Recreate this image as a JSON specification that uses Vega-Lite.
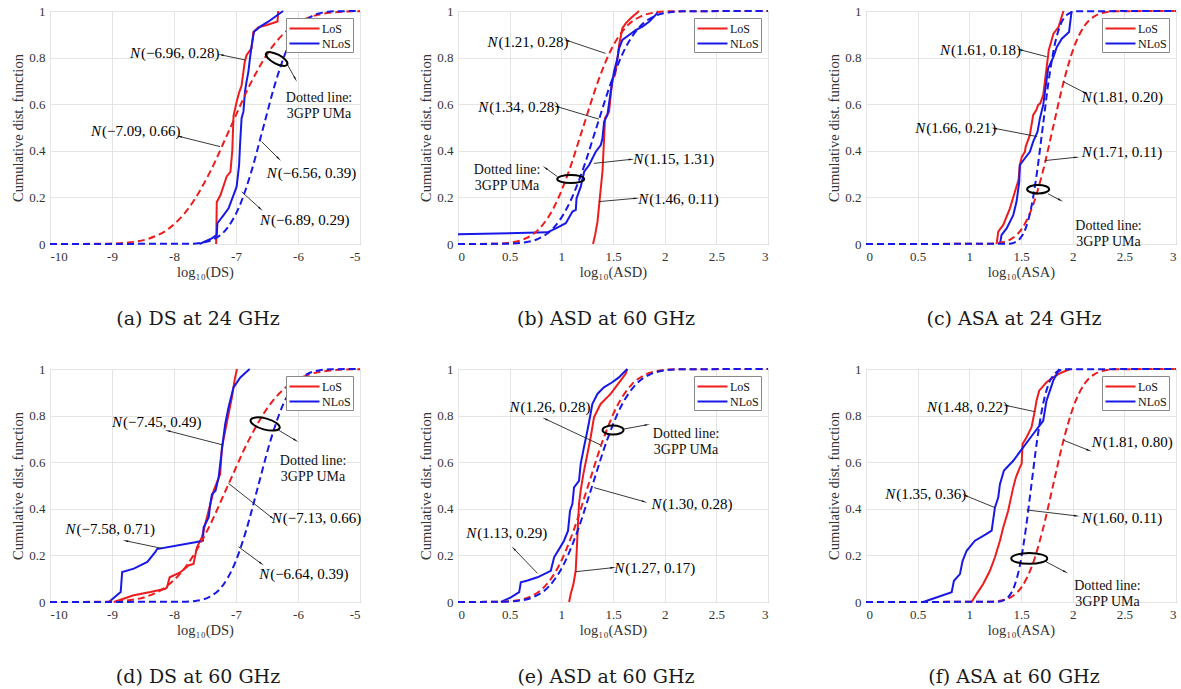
{
"$schema": "https://vega.github.io/schema/vega-lite/v6.json",
"background": "white",
"padding": {"left": 10, "top": 4, "right": 0, "bottom": 0},
"config": {
 "view": {"stroke": "#8a8a8a", "strokeWidth": 1},
 "axis": {"labelFont": "Liberation Serif", "labelFontSize": 13, "labelColor": "#333", "titleFont": "Liberation Serif", "titleFontSize": 14.5, "titleFontWeight": "normal", "titleColor": "#333", "gridColor": "#e4e4e4", "gridWidth": 1, "domain": false, "ticks": false, "labelPadding": 6, "format": "~r", "labelExpr": "replace(datum.label, '−', '-')"},
 "axisX": {"titlePadding": 2},
 "axisY": {"titlePadding": 3, "labelPadding": 5},
 "legend": {"orient": "top-right", "offset": 7, "fillColor": "white", "strokeColor": "#8a8a8a", "padding": 2, "symbolType": "M-2,0L2,0", "symbolSize": 225, "symbolStrokeWidth": 2, "symbolOffset": 8, "labelOffset": 9, "labelFont": "Liberation Serif", "labelFontSize": 12, "labelColor": "#111", "rowPadding": 0},
 "title": {"font": "DejaVu Serif", "fontSize": 19, "fontWeight": "normal", "color": "#1a1a1a", "orient": "bottom", "offset": 31, "frame": "group", "dx": -7}
},
"datasets": {
"curves": [
{"p":"a","s":"LoS","k":"m","x":-7.32,"y":0},{"p":"a","s":"LoS","k":"m","x":-7.31,"y":0.18},{"p":"a","s":"LoS","k":"m","x":-7.25,"y":0.21},{"p":"a","s":"LoS","k":"m","x":-7.2,"y":0.25},{"p":"a","s":"LoS","k":"m","x":-7.15,"y":0.29},{"p":"a","s":"LoS","k":"m","x":-7.09,"y":0.31},{"p":"a","s":"LoS","k":"m","x":-7.06,"y":0.4},{"p":"a","s":"LoS","k":"m","x":-7.04,"y":0.55},{"p":"a","s":"LoS","k":"m","x":-6.99,"y":0.61},{"p":"a","s":"LoS","k":"m","x":-6.95,"y":0.65},{"p":"a","s":"LoS","k":"m","x":-6.91,"y":0.68},{"p":"a","s":"LoS","k":"m","x":-6.86,"y":0.78},{"p":"a","s":"LoS","k":"m","x":-6.83,"y":0.81},{"p":"a","s":"LoS","k":"m","x":-6.75,"y":0.84},{"p":"a","s":"LoS","k":"m","x":-6.72,"y":0.91},{"p":"a","s":"LoS","k":"m","x":-6.64,"y":0.93},{"p":"a","s":"LoS","k":"m","x":-6.5,"y":0.94},{"p":"a","s":"LoS","k":"m","x":-6.33,"y":0.955},{"p":"a","s":"LoS","k":"m","x":-6.32,"y":1},
{"p":"a","s":"NLoS","k":"m","x":-7.59,"y":0},{"p":"a","s":"NLoS","k":"m","x":-7.39,"y":0.024},{"p":"a","s":"NLoS","k":"m","x":-7.31,"y":0.039},{"p":"a","s":"NLoS","k":"m","x":-7.3,"y":0.089},{"p":"a","s":"NLoS","k":"m","x":-7.2,"y":0.124},{"p":"a","s":"NLoS","k":"m","x":-7.12,"y":0.153},{"p":"a","s":"NLoS","k":"m","x":-7.04,"y":0.21},{"p":"a","s":"NLoS","k":"m","x":-6.99,"y":0.246},{"p":"a","s":"NLoS","k":"m","x":-6.95,"y":0.339},{"p":"a","s":"NLoS","k":"m","x":-6.935,"y":0.425},{"p":"a","s":"NLoS","k":"m","x":-6.91,"y":0.54},{"p":"a","s":"NLoS","k":"m","x":-6.88,"y":0.568},{"p":"a","s":"NLoS","k":"m","x":-6.855,"y":0.654},{"p":"a","s":"NLoS","k":"m","x":-6.83,"y":0.697},{"p":"a","s":"NLoS","k":"m","x":-6.8,"y":0.74},{"p":"a","s":"NLoS","k":"m","x":-6.775,"y":0.797},{"p":"a","s":"NLoS","k":"m","x":-6.75,"y":0.847},{"p":"a","s":"NLoS","k":"m","x":-6.71,"y":0.911},{"p":"a","s":"NLoS","k":"m","x":-6.61,"y":0.933},{"p":"a","s":"NLoS","k":"m","x":-6.48,"y":0.954},{"p":"a","s":"NLoS","k":"m","x":-6.33,"y":0.983},{"p":"a","s":"NLoS","k":"m","x":-6.24,"y":1},
{"p":"a","s":"LoS","k":"g","x":-10,"y":0},{"p":"a","s":"LoS","k":"g","x":-9.07,"y":0.0013},{"p":"a","s":"LoS","k":"g","x":-8.74,"y":0.0062},{"p":"a","s":"LoS","k":"g","x":-8.41,"y":0.0228},{"p":"a","s":"LoS","k":"g","x":-8.08,"y":0.0668},{"p":"a","s":"LoS","k":"g","x":-7.75,"y":0.1587},{"p":"a","s":"LoS","k":"g","x":-7.42,"y":0.3085},{"p":"a","s":"LoS","k":"g","x":-7.09,"y":0.5},{"p":"a","s":"LoS","k":"g","x":-6.76,"y":0.6915},{"p":"a","s":"LoS","k":"g","x":-6.43,"y":0.8413},{"p":"a","s":"LoS","k":"g","x":-6.1,"y":0.9332},{"p":"a","s":"LoS","k":"g","x":-5.77,"y":0.9772},{"p":"a","s":"LoS","k":"g","x":-5.44,"y":0.9938},{"p":"a","s":"LoS","k":"g","x":-5.11,"y":0.9987},{"p":"a","s":"LoS","k":"g","x":-5,"y":0.9992},
{"p":"a","s":"NLoS","k":"g","x":-10,"y":0},{"p":"a","s":"NLoS","k":"g","x":-7.73,"y":0.0013},{"p":"a","s":"NLoS","k":"g","x":-7.535,"y":0.0062},{"p":"a","s":"NLoS","k":"g","x":-7.34,"y":0.0228},{"p":"a","s":"NLoS","k":"g","x":-7.145,"y":0.0668},{"p":"a","s":"NLoS","k":"g","x":-6.95,"y":0.1587},{"p":"a","s":"NLoS","k":"g","x":-6.755,"y":0.3085},{"p":"a","s":"NLoS","k":"g","x":-6.56,"y":0.5},{"p":"a","s":"NLoS","k":"g","x":-6.365,"y":0.6915},{"p":"a","s":"NLoS","k":"g","x":-6.17,"y":0.8413},{"p":"a","s":"NLoS","k":"g","x":-5.975,"y":0.9332},{"p":"a","s":"NLoS","k":"g","x":-5.78,"y":0.9772},{"p":"a","s":"NLoS","k":"g","x":-5.585,"y":0.9938},{"p":"a","s":"NLoS","k":"g","x":-5.39,"y":0.9987},{"p":"a","s":"NLoS","k":"g","x":-5,"y":1},

{"p":"b","s":"LoS","k":"m","x":1.307,"y":0},{"p":"b","s":"LoS","k":"m","x":1.327,"y":0.039},{"p":"b","s":"LoS","k":"m","x":1.35,"y":0.096},{"p":"b","s":"LoS","k":"m","x":1.372,"y":0.196},{"p":"b","s":"LoS","k":"m","x":1.398,"y":0.31},{"p":"b","s":"LoS","k":"m","x":1.414,"y":0.454},{"p":"b","s":"LoS","k":"m","x":1.423,"y":0.54},{"p":"b","s":"LoS","k":"m","x":1.462,"y":0.568},{"p":"b","s":"LoS","k":"m","x":1.478,"y":0.64},{"p":"b","s":"LoS","k":"m","x":1.495,"y":0.711},{"p":"b","s":"LoS","k":"m","x":1.52,"y":0.725},{"p":"b","s":"LoS","k":"m","x":1.543,"y":0.797},{"p":"b","s":"LoS","k":"m","x":1.559,"y":0.854},{"p":"b","s":"LoS","k":"m","x":1.575,"y":0.89},{"p":"b","s":"LoS","k":"m","x":1.591,"y":0.926},{"p":"b","s":"LoS","k":"m","x":1.623,"y":0.947},{"p":"b","s":"LoS","k":"m","x":1.671,"y":0.969},{"p":"b","s":"LoS","k":"m","x":1.752,"y":1},
{"p":"b","s":"NLoS","k":"m","x":0,"y":0.042},{"p":"b","s":"NLoS","k":"m","x":0.866,"y":0.05},{"p":"b","s":"NLoS","k":"m","x":0.947,"y":0.067},{"p":"b","s":"NLoS","k":"m","x":1.043,"y":0.089},{"p":"b","s":"NLoS","k":"m","x":1.108,"y":0.139},{"p":"b","s":"NLoS","k":"m","x":1.14,"y":0.146},{"p":"b","s":"NLoS","k":"m","x":1.147,"y":0.196},{"p":"b","s":"NLoS","k":"m","x":1.188,"y":0.246},{"p":"b","s":"NLoS","k":"m","x":1.221,"y":0.31},{"p":"b","s":"NLoS","k":"m","x":1.269,"y":0.339},{"p":"b","s":"NLoS","k":"m","x":1.333,"y":0.396},{"p":"b","s":"NLoS","k":"m","x":1.382,"y":0.425},{"p":"b","s":"NLoS","k":"m","x":1.398,"y":0.454},{"p":"b","s":"NLoS","k":"m","x":1.414,"y":0.525},{"p":"b","s":"NLoS","k":"m","x":1.446,"y":0.554},{"p":"b","s":"NLoS","k":"m","x":1.478,"y":0.654},{"p":"b","s":"NLoS","k":"m","x":1.51,"y":0.74},{"p":"b","s":"NLoS","k":"m","x":1.543,"y":0.797},{"p":"b","s":"NLoS","k":"m","x":1.559,"y":0.84},{"p":"b","s":"NLoS","k":"m","x":1.591,"y":0.876},{"p":"b","s":"NLoS","k":"m","x":1.655,"y":0.897},{"p":"b","s":"NLoS","k":"m","x":1.72,"y":0.918},{"p":"b","s":"NLoS","k":"m","x":1.785,"y":0.933},{"p":"b","s":"NLoS","k":"m","x":1.849,"y":0.954},{"p":"b","s":"NLoS","k":"m","x":1.913,"y":0.983},{"p":"b","s":"NLoS","k":"m","x":1.939,"y":1},
{"p":"b","s":"LoS","k":"g","x":0,"y":0},{"p":"b","s":"LoS","k":"g","x":0.37,"y":0.0013},{"p":"b","s":"LoS","k":"g","x":0.51,"y":0.0062},{"p":"b","s":"LoS","k":"g","x":0.65,"y":0.0228},{"p":"b","s":"LoS","k":"g","x":0.79,"y":0.0668},{"p":"b","s":"LoS","k":"g","x":0.93,"y":0.1587},{"p":"b","s":"LoS","k":"g","x":1.07,"y":0.3085},{"p":"b","s":"LoS","k":"g","x":1.21,"y":0.5},{"p":"b","s":"LoS","k":"g","x":1.35,"y":0.6915},{"p":"b","s":"LoS","k":"g","x":1.49,"y":0.8413},{"p":"b","s":"LoS","k":"g","x":1.63,"y":0.9332},{"p":"b","s":"LoS","k":"g","x":1.77,"y":0.9772},{"p":"b","s":"LoS","k":"g","x":1.91,"y":0.9938},{"p":"b","s":"LoS","k":"g","x":2.05,"y":0.9987},{"p":"b","s":"LoS","k":"g","x":3,"y":1},
{"p":"b","s":"NLoS","k":"g","x":0,"y":0},{"p":"b","s":"NLoS","k":"g","x":0.5,"y":0.0013},{"p":"b","s":"NLoS","k":"g","x":0.64,"y":0.0062},{"p":"b","s":"NLoS","k":"g","x":0.78,"y":0.0228},{"p":"b","s":"NLoS","k":"g","x":0.92,"y":0.0668},{"p":"b","s":"NLoS","k":"g","x":1.06,"y":0.1587},{"p":"b","s":"NLoS","k":"g","x":1.2,"y":0.3085},{"p":"b","s":"NLoS","k":"g","x":1.34,"y":0.5},{"p":"b","s":"NLoS","k":"g","x":1.48,"y":0.6915},{"p":"b","s":"NLoS","k":"g","x":1.62,"y":0.8413},{"p":"b","s":"NLoS","k":"g","x":1.76,"y":0.9332},{"p":"b","s":"NLoS","k":"g","x":1.9,"y":0.9772},{"p":"b","s":"NLoS","k":"g","x":2.04,"y":0.9938},{"p":"b","s":"NLoS","k":"g","x":2.18,"y":0.9987},{"p":"b","s":"NLoS","k":"g","x":3,"y":1},

{"p":"c","s":"LoS","k":"m","x":1.264,"y":0},{"p":"c","s":"LoS","k":"m","x":1.28,"y":0.053},{"p":"c","s":"LoS","k":"m","x":1.328,"y":0.082},{"p":"c","s":"LoS","k":"m","x":1.393,"y":0.153},{"p":"c","s":"LoS","k":"m","x":1.441,"y":0.224},{"p":"c","s":"LoS","k":"m","x":1.476,"y":0.274},{"p":"c","s":"LoS","k":"m","x":1.489,"y":0.339},{"p":"c","s":"LoS","k":"m","x":1.508,"y":0.374},{"p":"c","s":"LoS","k":"m","x":1.538,"y":0.396},{"p":"c","s":"LoS","k":"m","x":1.545,"y":0.417},{"p":"c","s":"LoS","k":"m","x":1.586,"y":0.468},{"p":"c","s":"LoS","k":"m","x":1.618,"y":0.554},{"p":"c","s":"LoS","k":"m","x":1.647,"y":0.574},{"p":"c","s":"LoS","k":"m","x":1.666,"y":0.597},{"p":"c","s":"LoS","k":"m","x":1.685,"y":0.603},{"p":"c","s":"LoS","k":"m","x":1.715,"y":0.639},{"p":"c","s":"LoS","k":"m","x":1.743,"y":0.74},{"p":"c","s":"LoS","k":"m","x":1.763,"y":0.811},{"p":"c","s":"LoS","k":"m","x":1.768,"y":0.831},{"p":"c","s":"LoS","k":"m","x":1.814,"y":0.903},{"p":"c","s":"LoS","k":"m","x":1.863,"y":0.931},{"p":"c","s":"LoS","k":"m","x":1.911,"y":1},
{"p":"c","s":"NLoS","k":"m","x":1.296,"y":0},{"p":"c","s":"NLoS","k":"m","x":1.312,"y":0.039},{"p":"c","s":"NLoS","k":"m","x":1.361,"y":0.067},{"p":"c","s":"NLoS","k":"m","x":1.425,"y":0.124},{"p":"c","s":"NLoS","k":"m","x":1.457,"y":0.182},{"p":"c","s":"NLoS","k":"m","x":1.483,"y":0.267},{"p":"c","s":"NLoS","k":"m","x":1.489,"y":0.339},{"p":"c","s":"NLoS","k":"m","x":1.538,"y":0.368},{"p":"c","s":"NLoS","k":"m","x":1.586,"y":0.396},{"p":"c","s":"NLoS","k":"m","x":1.618,"y":0.439},{"p":"c","s":"NLoS","k":"m","x":1.66,"y":0.482},{"p":"c","s":"NLoS","k":"m","x":1.683,"y":0.539},{"p":"c","s":"NLoS","k":"m","x":1.715,"y":0.597},{"p":"c","s":"NLoS","k":"m","x":1.741,"y":0.682},{"p":"c","s":"NLoS","k":"m","x":1.763,"y":0.754},{"p":"c","s":"NLoS","k":"m","x":1.814,"y":0.803},{"p":"c","s":"NLoS","k":"m","x":1.847,"y":0.846},{"p":"c","s":"NLoS","k":"m","x":1.895,"y":0.881},{"p":"c","s":"NLoS","k":"m","x":1.965,"y":0.91},{"p":"c","s":"NLoS","k":"m","x":1.99,"y":1},
{"p":"c","s":"LoS","k":"g","x":0,"y":0},{"p":"c","s":"LoS","k":"g","x":1.21,"y":0.0013},{"p":"c","s":"LoS","k":"g","x":1.31,"y":0.0062},{"p":"c","s":"LoS","k":"g","x":1.41,"y":0.0228},{"p":"c","s":"LoS","k":"g","x":1.51,"y":0.0668},{"p":"c","s":"LoS","k":"g","x":1.61,"y":0.1587},{"p":"c","s":"LoS","k":"g","x":1.71,"y":0.3085},{"p":"c","s":"LoS","k":"g","x":1.81,"y":0.5},{"p":"c","s":"LoS","k":"g","x":1.91,"y":0.6915},{"p":"c","s":"LoS","k":"g","x":2.01,"y":0.8413},{"p":"c","s":"LoS","k":"g","x":2.11,"y":0.9332},{"p":"c","s":"LoS","k":"g","x":2.21,"y":0.9772},{"p":"c","s":"LoS","k":"g","x":2.31,"y":0.9938},{"p":"c","s":"LoS","k":"g","x":2.41,"y":0.9987},{"p":"c","s":"LoS","k":"g","x":3,"y":1},
{"p":"c","s":"NLoS","k":"g","x":0,"y":0},{"p":"c","s":"NLoS","k":"g","x":1.385,"y":0.0013},{"p":"c","s":"NLoS","k":"g","x":1.435,"y":0.0062},{"p":"c","s":"NLoS","k":"g","x":1.49,"y":0.0228},{"p":"c","s":"NLoS","k":"g","x":1.545,"y":0.0668},{"p":"c","s":"NLoS","k":"g","x":1.6,"y":0.1587},{"p":"c","s":"NLoS","k":"g","x":1.655,"y":0.3085},{"p":"c","s":"NLoS","k":"g","x":1.71,"y":0.5},{"p":"c","s":"NLoS","k":"g","x":1.765,"y":0.6915},{"p":"c","s":"NLoS","k":"g","x":1.82,"y":0.8413},{"p":"c","s":"NLoS","k":"g","x":1.875,"y":0.9332},{"p":"c","s":"NLoS","k":"g","x":1.93,"y":0.9772},{"p":"c","s":"NLoS","k":"g","x":1.985,"y":0.9938},{"p":"c","s":"NLoS","k":"g","x":2.04,"y":0.9987},{"p":"c","s":"NLoS","k":"g","x":3,"y":1},

{"p":"d","s":"LoS","k":"m","x":-8.97,"y":0},{"p":"d","s":"LoS","k":"m","x":-8.65,"y":0.029},{"p":"d","s":"LoS","k":"m","x":-8.38,"y":0.043},{"p":"d","s":"LoS","k":"m","x":-8.14,"y":0.057},{"p":"d","s":"LoS","k":"m","x":-8.113,"y":0.063},{"p":"d","s":"LoS","k":"m","x":-8.07,"y":0.106},{"p":"d","s":"LoS","k":"m","x":-7.9,"y":0.127},{"p":"d","s":"LoS","k":"m","x":-7.76,"y":0.158},{"p":"d","s":"LoS","k":"m","x":-7.685,"y":0.163},{"p":"d","s":"LoS","k":"m","x":-7.63,"y":0.235},{"p":"d","s":"LoS","k":"m","x":-7.55,"y":0.278},{"p":"d","s":"LoS","k":"m","x":-7.496,"y":0.335},{"p":"d","s":"LoS","k":"m","x":-7.415,"y":0.42},{"p":"d","s":"LoS","k":"m","x":-7.36,"y":0.478},{"p":"d","s":"LoS","k":"m","x":-7.255,"y":0.549},{"p":"d","s":"LoS","k":"m","x":-7.227,"y":0.664},{"p":"d","s":"LoS","k":"m","x":-7.174,"y":0.735},{"p":"d","s":"LoS","k":"m","x":-7.12,"y":0.807},{"p":"d","s":"LoS","k":"m","x":-7.066,"y":0.878},{"p":"d","s":"LoS","k":"m","x":-7.024,"y":0.95},{"p":"d","s":"LoS","k":"m","x":-6.985,"y":1},
{"p":"d","s":"NLoS","k":"m","x":-9.05,"y":0},{"p":"d","s":"NLoS","k":"m","x":-8.86,"y":0.043},{"p":"d","s":"NLoS","k":"m","x":-8.836,"y":0.129},{"p":"d","s":"NLoS","k":"m","x":-8.648,"y":0.143},{"p":"d","s":"NLoS","k":"m","x":-8.43,"y":0.172},{"p":"d","s":"NLoS","k":"m","x":-8.3,"y":0.215},{"p":"d","s":"NLoS","k":"m","x":-8.274,"y":0.227},{"p":"d","s":"NLoS","k":"m","x":-7.657,"y":0.256},{"p":"d","s":"NLoS","k":"m","x":-7.533,"y":0.263},{"p":"d","s":"NLoS","k":"m","x":-7.523,"y":0.32},{"p":"d","s":"NLoS","k":"m","x":-7.44,"y":0.364},{"p":"d","s":"NLoS","k":"m","x":-7.415,"y":0.42},{"p":"d","s":"NLoS","k":"m","x":-7.388,"y":0.463},{"p":"d","s":"NLoS","k":"m","x":-7.33,"y":0.478},{"p":"d","s":"NLoS","k":"m","x":-7.28,"y":0.535},{"p":"d","s":"NLoS","k":"m","x":-7.255,"y":0.592},{"p":"d","s":"NLoS","k":"m","x":-7.21,"y":0.692},{"p":"d","s":"NLoS","k":"m","x":-7.174,"y":0.764},{"p":"d","s":"NLoS","k":"m","x":-7.12,"y":0.836},{"p":"d","s":"NLoS","k":"m","x":-7.04,"y":0.921},{"p":"d","s":"NLoS","k":"m","x":-6.93,"y":0.964},{"p":"d","s":"NLoS","k":"m","x":-6.78,"y":1},
{"p":"d","s":"LoS","k":"g","x":-10,"y":0},{"p":"d","s":"LoS","k":"g","x":-9.11,"y":0.0013},{"p":"d","s":"LoS","k":"g","x":-8.78,"y":0.0062},{"p":"d","s":"LoS","k":"g","x":-8.45,"y":0.0228},{"p":"d","s":"LoS","k":"g","x":-8.12,"y":0.0668},{"p":"d","s":"LoS","k":"g","x":-7.79,"y":0.1587},{"p":"d","s":"LoS","k":"g","x":-7.46,"y":0.3085},{"p":"d","s":"LoS","k":"g","x":-7.13,"y":0.5},{"p":"d","s":"LoS","k":"g","x":-6.8,"y":0.6915},{"p":"d","s":"LoS","k":"g","x":-6.47,"y":0.8413},{"p":"d","s":"LoS","k":"g","x":-6.14,"y":0.9332},{"p":"d","s":"LoS","k":"g","x":-5.81,"y":0.9772},{"p":"d","s":"LoS","k":"g","x":-5.48,"y":0.9938},{"p":"d","s":"LoS","k":"g","x":-5.15,"y":0.9987},{"p":"d","s":"LoS","k":"g","x":-5,"y":0.9993},
{"p":"d","s":"NLoS","k":"g","x":-10,"y":0},{"p":"d","s":"NLoS","k":"g","x":-7.81,"y":0.0013},{"p":"d","s":"NLoS","k":"g","x":-7.615,"y":0.0062},{"p":"d","s":"NLoS","k":"g","x":-7.42,"y":0.0228},{"p":"d","s":"NLoS","k":"g","x":-7.225,"y":0.0668},{"p":"d","s":"NLoS","k":"g","x":-7.03,"y":0.1587},{"p":"d","s":"NLoS","k":"g","x":-6.835,"y":0.3085},{"p":"d","s":"NLoS","k":"g","x":-6.64,"y":0.5},{"p":"d","s":"NLoS","k":"g","x":-6.445,"y":0.6915},{"p":"d","s":"NLoS","k":"g","x":-6.25,"y":0.8413},{"p":"d","s":"NLoS","k":"g","x":-6.055,"y":0.9332},{"p":"d","s":"NLoS","k":"g","x":-5.86,"y":0.9772},{"p":"d","s":"NLoS","k":"g","x":-5.665,"y":0.9938},{"p":"d","s":"NLoS","k":"g","x":-5.47,"y":0.9987},{"p":"d","s":"NLoS","k":"g","x":-5,"y":1},

{"p":"e","s":"LoS","k":"m","x":1.075,"y":0},{"p":"e","s":"LoS","k":"m","x":1.091,"y":0.034},{"p":"e","s":"LoS","k":"m","x":1.117,"y":0.077},{"p":"e","s":"LoS","k":"m","x":1.139,"y":0.134},{"p":"e","s":"LoS","k":"m","x":1.149,"y":0.22},{"p":"e","s":"LoS","k":"m","x":1.161,"y":0.335},{"p":"e","s":"LoS","k":"m","x":1.171,"y":0.42},{"p":"e","s":"LoS","k":"m","x":1.187,"y":0.478},{"p":"e","s":"LoS","k":"m","x":1.213,"y":0.549},{"p":"e","s":"LoS","k":"m","x":1.252,"y":0.635},{"p":"e","s":"LoS","k":"m","x":1.284,"y":0.707},{"p":"e","s":"LoS","k":"m","x":1.316,"y":0.793},{"p":"e","s":"LoS","k":"m","x":1.38,"y":0.85},{"p":"e","s":"LoS","k":"m","x":1.477,"y":0.893},{"p":"e","s":"LoS","k":"m","x":1.573,"y":0.95},{"p":"e","s":"LoS","k":"m","x":1.622,"y":0.979},{"p":"e","s":"LoS","k":"m","x":1.638,"y":1},
{"p":"e","s":"NLoS","k":"m","x":0.415,"y":0},{"p":"e","s":"NLoS","k":"m","x":0.512,"y":0.02},{"p":"e","s":"NLoS","k":"m","x":0.592,"y":0.042},{"p":"e","s":"NLoS","k":"m","x":0.608,"y":0.085},{"p":"e","s":"NLoS","k":"m","x":0.673,"y":0.092},{"p":"e","s":"NLoS","k":"m","x":0.769,"y":0.106},{"p":"e","s":"NLoS","k":"m","x":0.898,"y":0.134},{"p":"e","s":"NLoS","k":"m","x":0.93,"y":0.192},{"p":"e","s":"NLoS","k":"m","x":0.978,"y":0.227},{"p":"e","s":"NLoS","k":"m","x":1.026,"y":0.263},{"p":"e","s":"NLoS","k":"m","x":1.065,"y":0.306},{"p":"e","s":"NLoS","k":"m","x":1.084,"y":0.392},{"p":"e","s":"NLoS","k":"m","x":1.107,"y":0.42},{"p":"e","s":"NLoS","k":"m","x":1.123,"y":0.492},{"p":"e","s":"NLoS","k":"m","x":1.171,"y":0.52},{"p":"e","s":"NLoS","k":"m","x":1.187,"y":0.592},{"p":"e","s":"NLoS","k":"m","x":1.219,"y":0.664},{"p":"e","s":"NLoS","k":"m","x":1.252,"y":0.735},{"p":"e","s":"NLoS","k":"m","x":1.277,"y":0.793},{"p":"e","s":"NLoS","k":"m","x":1.3,"y":0.85},{"p":"e","s":"NLoS","k":"m","x":1.349,"y":0.893},{"p":"e","s":"NLoS","k":"m","x":1.412,"y":0.921},{"p":"e","s":"NLoS","k":"m","x":1.493,"y":0.943},{"p":"e","s":"NLoS","k":"m","x":1.557,"y":0.964},{"p":"e","s":"NLoS","k":"m","x":1.638,"y":1},
{"p":"e","s":"LoS","k":"g","x":0,"y":0},{"p":"e","s":"LoS","k":"g","x":0.42,"y":0.0013},{"p":"e","s":"LoS","k":"g","x":0.56,"y":0.0062},{"p":"e","s":"LoS","k":"g","x":0.7,"y":0.0228},{"p":"e","s":"LoS","k":"g","x":0.84,"y":0.0668},{"p":"e","s":"LoS","k":"g","x":0.98,"y":0.1587},{"p":"e","s":"LoS","k":"g","x":1.12,"y":0.3085},{"p":"e","s":"LoS","k":"g","x":1.26,"y":0.5},{"p":"e","s":"LoS","k":"g","x":1.4,"y":0.6915},{"p":"e","s":"LoS","k":"g","x":1.54,"y":0.8413},{"p":"e","s":"LoS","k":"g","x":1.68,"y":0.9332},{"p":"e","s":"LoS","k":"g","x":1.82,"y":0.9772},{"p":"e","s":"LoS","k":"g","x":1.96,"y":0.9938},{"p":"e","s":"LoS","k":"g","x":2.1,"y":0.9987},{"p":"e","s":"LoS","k":"g","x":3,"y":1},
{"p":"e","s":"NLoS","k":"g","x":0,"y":0},{"p":"e","s":"NLoS","k":"g","x":0.46,"y":0.0013},{"p":"e","s":"NLoS","k":"g","x":0.6,"y":0.0062},{"p":"e","s":"NLoS","k":"g","x":0.74,"y":0.0228},{"p":"e","s":"NLoS","k":"g","x":0.88,"y":0.0668},{"p":"e","s":"NLoS","k":"g","x":1.02,"y":0.1587},{"p":"e","s":"NLoS","k":"g","x":1.16,"y":0.3085},{"p":"e","s":"NLoS","k":"g","x":1.3,"y":0.5},{"p":"e","s":"NLoS","k":"g","x":1.44,"y":0.6915},{"p":"e","s":"NLoS","k":"g","x":1.58,"y":0.8413},{"p":"e","s":"NLoS","k":"g","x":1.72,"y":0.9332},{"p":"e","s":"NLoS","k":"g","x":1.86,"y":0.9772},{"p":"e","s":"NLoS","k":"g","x":2,"y":0.9938},{"p":"e","s":"NLoS","k":"g","x":2.14,"y":0.9987},{"p":"e","s":"NLoS","k":"g","x":3,"y":1},

{"p":"f","s":"LoS","k":"m","x":1.022,"y":0},{"p":"f","s":"LoS","k":"m","x":1.07,"y":0.034},{"p":"f","s":"LoS","k":"m","x":1.134,"y":0.077},{"p":"f","s":"LoS","k":"m","x":1.199,"y":0.134},{"p":"f","s":"LoS","k":"m","x":1.248,"y":0.192},{"p":"f","s":"LoS","k":"m","x":1.296,"y":0.263},{"p":"f","s":"LoS","k":"m","x":1.328,"y":0.32},{"p":"f","s":"LoS","k":"m","x":1.376,"y":0.392},{"p":"f","s":"LoS","k":"m","x":1.425,"y":0.492},{"p":"f","s":"LoS","k":"m","x":1.451,"y":0.535},{"p":"f","s":"LoS","k":"m","x":1.489,"y":0.578},{"p":"f","s":"LoS","k":"m","x":1.506,"y":0.592},{"p":"f","s":"LoS","k":"m","x":1.515,"y":0.678},{"p":"f","s":"LoS","k":"m","x":1.554,"y":0.707},{"p":"f","s":"LoS","k":"m","x":1.602,"y":0.75},{"p":"f","s":"LoS","k":"m","x":1.634,"y":0.821},{"p":"f","s":"LoS","k":"m","x":1.65,"y":0.864},{"p":"f","s":"LoS","k":"m","x":1.676,"y":0.907},{"p":"f","s":"LoS","k":"m","x":1.747,"y":0.943},{"p":"f","s":"LoS","k":"m","x":1.812,"y":0.964},{"p":"f","s":"LoS","k":"m","x":1.87,"y":0.98},{"p":"f","s":"LoS","k":"m","x":1.975,"y":1},
{"p":"f","s":"NLoS","k":"m","x":0.554,"y":0},{"p":"f","s":"NLoS","k":"m","x":0.829,"y":0.042},{"p":"f","s":"NLoS","k":"m","x":0.851,"y":0.091},{"p":"f","s":"NLoS","k":"m","x":0.909,"y":0.12},{"p":"f","s":"NLoS","k":"m","x":0.935,"y":0.177},{"p":"f","s":"NLoS","k":"m","x":0.974,"y":0.22},{"p":"f","s":"NLoS","k":"m","x":1.054,"y":0.263},{"p":"f","s":"NLoS","k":"m","x":1.167,"y":0.292},{"p":"f","s":"NLoS","k":"m","x":1.216,"y":0.306},{"p":"f","s":"NLoS","k":"m","x":1.248,"y":0.406},{"p":"f","s":"NLoS","k":"m","x":1.28,"y":0.449},{"p":"f","s":"NLoS","k":"m","x":1.296,"y":0.506},{"p":"f","s":"NLoS","k":"m","x":1.335,"y":0.564},{"p":"f","s":"NLoS","k":"m","x":1.425,"y":0.606},{"p":"f","s":"NLoS","k":"m","x":1.521,"y":0.664},{"p":"f","s":"NLoS","k":"m","x":1.618,"y":0.721},{"p":"f","s":"NLoS","k":"m","x":1.715,"y":0.778},{"p":"f","s":"NLoS","k":"m","x":1.747,"y":0.864},{"p":"f","s":"NLoS","k":"m","x":1.78,"y":0.907},{"p":"f","s":"NLoS","k":"m","x":1.812,"y":0.95},{"p":"f","s":"NLoS","k":"m","x":1.87,"y":1},
{"p":"f","s":"LoS","k":"g","x":0,"y":0},{"p":"f","s":"LoS","k":"g","x":1.21,"y":0.0013},{"p":"f","s":"LoS","k":"g","x":1.31,"y":0.0062},{"p":"f","s":"LoS","k":"g","x":1.41,"y":0.0228},{"p":"f","s":"LoS","k":"g","x":1.51,"y":0.0668},{"p":"f","s":"LoS","k":"g","x":1.61,"y":0.1587},{"p":"f","s":"LoS","k":"g","x":1.71,"y":0.3085},{"p":"f","s":"LoS","k":"g","x":1.81,"y":0.5},{"p":"f","s":"LoS","k":"g","x":1.91,"y":0.6915},{"p":"f","s":"LoS","k":"g","x":2.01,"y":0.8413},{"p":"f","s":"LoS","k":"g","x":2.11,"y":0.9332},{"p":"f","s":"LoS","k":"g","x":2.21,"y":0.9772},{"p":"f","s":"LoS","k":"g","x":2.31,"y":0.9938},{"p":"f","s":"LoS","k":"g","x":2.41,"y":0.9987},{"p":"f","s":"LoS","k":"g","x":3,"y":1},
{"p":"f","s":"NLoS","k":"g","x":0,"y":0},{"p":"f","s":"NLoS","k":"g","x":1.27,"y":0.0013},{"p":"f","s":"NLoS","k":"g","x":1.325,"y":0.0062},{"p":"f","s":"NLoS","k":"g","x":1.38,"y":0.0228},{"p":"f","s":"NLoS","k":"g","x":1.435,"y":0.0668},{"p":"f","s":"NLoS","k":"g","x":1.49,"y":0.1587},{"p":"f","s":"NLoS","k":"g","x":1.545,"y":0.3085},{"p":"f","s":"NLoS","k":"g","x":1.6,"y":0.5},{"p":"f","s":"NLoS","k":"g","x":1.655,"y":0.6915},{"p":"f","s":"NLoS","k":"g","x":1.71,"y":0.8413},{"p":"f","s":"NLoS","k":"g","x":1.765,"y":0.9332},{"p":"f","s":"NLoS","k":"g","x":1.82,"y":0.9772},{"p":"f","s":"NLoS","k":"g","x":1.875,"y":0.9938},{"p":"f","s":"NLoS","k":"g","x":1.93,"y":0.9987},{"p":"f","s":"NLoS","k":"g","x":3,"y":1}
],
"labels": [
{"p":"a","x":-8.548,"y":0.821,"t":"(−6.96, 0.28)"},{"p":"a","x":-9.177,"y":0.486,"t":"(−7.09, 0.66)"},{"p":"a","x":-6.344,"y":0.306,"t":"(−6.56, 0.39)"},{"p":"a","x":-6.452,"y":0.103,"t":"(−6.89, 0.29)"},
{"p":"b","x":0.383,"y":0.868,"t":"(1.21, 0.28)"},{"p":"b","x":0.293,"y":0.589,"t":"(1.34, 0.28)"},{"p":"b","x":1.792,"y":0.363,"t":"(1.15, 1.31)"},{"p":"b","x":1.841,"y":0.192,"t":"(1.46, 0.11)"},
{"p":"c","x":0.812,"y":0.833,"t":"(1.61, 0.18)"},{"p":"c","x":2.186,"y":0.629,"t":"(1.81, 0.20)"},{"p":"c","x":0.574,"y":0.496,"t":"(1.66, 0.21)"},{"p":"c","x":2.186,"y":0.396,"t":"(1.71, 0.11)"},
{"p":"d","x":-8.837,"y":0.771,"t":"(−7.45, 0.49)"},{"p":"d","x":-9.589,"y":0.313,"t":"(−7.58, 0.71)"},{"p":"d","x":-6.261,"y":0.359,"t":"(−7.13, 0.66)"},{"p":"d","x":-6.465,"y":0.119,"t":"(−6.64, 0.39)"},
{"p":"e","x":0.595,"y":0.838,"t":"(1.26, 0.28)"},{"p":"e","x":1.969,"y":0.419,"t":"(1.30, 0.28)"},{"p":"e","x":0.177,"y":0.298,"t":"(1.13, 0.29)"},{"p":"e","x":1.609,"y":0.145,"t":"(1.27, 0.17)"},
{"p":"f","x":0.687,"y":0.838,"t":"(1.48, 0.22)"},{"p":"f","x":2.282,"y":0.685,"t":"(1.81, 0.80)"},{"p":"f","x":0.284,"y":0.462,"t":"(1.35, 0.36)"},{"p":"f","x":2.186,"y":0.359,"t":"(1.60, 0.11)"}
],
"arrows": [
{"p":"a","x2":-6.855,"y2":0.79,"x":-7.23,"y":0.811,"dir":-78},{"p":"a","x2":-7.258,"y2":0.418,"x":-7.903,"y":0.461,"dir":-76},{"p":"a","x2":-6.586,"y2":0.439,"x":-6.317,"y":0.368,"dir":135},{"p":"a","x2":-6.909,"y2":0.224,"x":-6.613,"y":0.153,"dir":132},{"p":"a","x2":-6.183,"y2":0.776,"x":-6.048,"y":0.711,"dir":151},
{"p":"b","x2":1.428,"y2":0.818,"x":1.059,"y":0.873,"dir":-72},{"p":"b","x2":1.364,"y2":0.536,"x":0.962,"y":0.589,"dir":-73},{"p":"b","x2":1.316,"y2":0.346,"x":1.67,"y":0.363,"dir":84},{"p":"b","x2":1.364,"y2":0.182,"x":1.718,"y":0.196,"dir":85},{"p":"b","x2":0.962,"y2":0.289,"x":0.85,"y":0.325,"dir":-54},
{"p":"c","x2":1.748,"y2":0.804,"x":1.496,"y":0.833,"dir":-75},{"p":"c","x2":1.908,"y2":0.697,"x":2.118,"y":0.649,"dir":117},{"p":"c","x2":1.657,"y2":0.461,"x":1.248,"y":0.496,"dir":-79},{"p":"c","x2":1.731,"y2":0.358,"x":2.031,"y":0.372,"dir":84},{"p":"c","x2":1.763,"y2":0.215,"x":1.876,"y":0.189,"dir":117},
{"p":"d","x2":-7.211,"y2":0.674,"x":-8.087,"y":0.734,"dir":-76},{"p":"d","x2":-8.193,"y2":0.23,"x":-8.768,"y":0.262,"dir":-78},{"p":"d","x2":-7.121,"y2":0.509,"x":-6.422,"y":0.362,"dir":128},{"p":"d","x2":-6.96,"y2":0.237,"x":-6.599,"y":0.166,"dir":126},{"p":"d","x2":-6.316,"y2":0.738,"x":-6.047,"y":0.695,"dir":121},
{"p":"e","x2":1.38,"y2":0.674,"x":0.849,"y":0.785,"dir":-65},{"p":"e","x2":1.316,"y2":0.491,"x":1.799,"y":0.431,"dir":106},{"p":"e","x2":0.769,"y2":0.123,"x":0.544,"y":0.227,"dir":-44},{"p":"e","x2":1.139,"y2":0.13,"x":1.493,"y":0.147,"dir":84},{"p":"e","x2":1.599,"y2":0.742,"x":1.824,"y":0.76,"dir":80},
{"p":"f","x2":1.634,"y2":0.817,"x":1.361,"y":0.843,"dir":-78},{"p":"f","x2":1.908,"y2":0.695,"x":2.15,"y":0.652,"dir":112},{"p":"f","x2":1.248,"y2":0.405,"x":0.967,"y":0.456,"dir":-67},{"p":"f","x2":1.554,"y2":0.395,"x":2.031,"y":0.37,"dir":97},{"p":"f","x2":1.741,"y2":0.173,"x":1.925,"y":0.13,"dir":118}
],
"ellipses": [
{"p":"a","x":-6.344,"y":0.794},{"p":"b","x":1.091,"y":0.279},{"p":"c","x":1.666,"y":0.235},{"p":"d","x":-6.53,"y":0.764},{"p":"e","x":1.5,"y":0.738},{"p":"f","x":1.58,"y":0.187}
],
"notes": [
{"p":"a","x":-5.661,"y":0.625,"t":"Dotted line:\n3GPP UMa"},{"p":"b","x":0.475,"y":0.316,"t":"Dotted line:\n3GPP UMa"},{"p":"c","x":2.347,"y":0.078,"t":"Dotted line:\n3GPP UMa"},{"p":"d","x":-5.757,"y":0.607,"t":"Dotted line:\n3GPP UMa"},{"p":"e","x":2.207,"y":0.72,"t":"Dotted line:\n3GPP UMa"},{"p":"f","x":2.337,"y":0.07,"t":"Dotted line:\n3GPP UMa"}
]
},
"columns": 3,
"bounds": "flush",
"spacing": {"row": 125, "column": 98},
"resolve": {"scale": {"x": "independent", "y": "independent", "color": "independent"}, "legend": {"color": "independent"}, "axis": {"x": "independent", "y": "independent"}},
"concat": [
{"width": 310, "height": 233, "title": {"text": "(a) DS at 24 GHz"},
 "encoding": {"x": {"field": "x", "type": "quantitative", "scale": {"domain": [-10, -5], "nice": false, "zero": false}, "axis": {"values": [-10, -9, -8, -7, -6, -5], "title": "log₁₀(DS)"}}, "y": {"field": "y", "type": "quantitative", "scale": {"domain": [0, 1], "nice": false}, "axis": {"values": [0, 0.2, 0.4, 0.6, 0.8, 1], "title": "Cumulative dist. function"}}},
 "layer": [
  {"data": {"name": "curves"}, "transform": [{"filter": "datum.p=='a' && datum.k=='m'"}], "mark": {"type": "line", "strokeWidth": 2}, "encoding": {"color": {"field": "s", "type": "nominal", "scale": {"domain": ["LoS", "NLoS"], "range": ["#ee1c1c", "#1818e8"]}, "legend": {"title": null}}, "order": [{"field": "x", "type": "quantitative"}, {"field": "y", "type": "quantitative"}]}},
  {"data": {"name": "curves"}, "transform": [{"filter": "datum.p=='a' && datum.k=='g'"}], "mark": {"type": "line", "strokeWidth": 2, "strokeDash": [7, 4], "interpolate": "monotone"}, "encoding": {"color": {"field": "s", "type": "nominal", "scale": {"domain": ["LoS", "NLoS"], "range": ["#ee1c1c", "#1818e8"]}, "legend": {"title": null}}, "order": [{"field": "x", "type": "quantitative"}, {"field": "y", "type": "quantitative"}]}},
  {"data": {"name": "arrows"}, "transform": [{"filter": "datum.p=='a'"}], "mark": {"type": "rule", "color": "#222", "strokeWidth": 0.9}, "encoding": {"x2": {"field": "x2"}, "y2": {"field": "y2"}}},
  {"data": {"name": "arrows"}, "transform": [{"filter": "datum.p=='a'"}], "mark": {"type": "point", "shape": "wedge", "filled": true, "color": "#111", "size": 45, "opacity": 1}, "encoding": {"angle": {"field": "dir", "type": "quantitative", "scale": null}}},
  {"data": {"name": "ellipses"}, "transform": [{"filter": "datum.p=='a'"}], "mark": {"type": "point", "shape": "M-1,0A1,0.38 0 1,1 1,0A1,0.38 0 1,1 -1,0Z", "size": 576, "angle": 28, "filled": false, "color": "#000", "strokeWidth": 2, "opacity": 1}},
  {"data": {"name": "labels"}, "transform": [{"filter": "datum.p=='a'"}], "mark": {"type": "text", "text": "N", "font": "Liberation Serif", "fontStyle": "italic", "fontSize": 15, "align": "right", "baseline": "middle", "color": "#000"}},
  {"data": {"name": "labels"}, "transform": [{"filter": "datum.p=='a'"}], "mark": {"type": "text", "font": "Liberation Serif", "fontSize": 15, "align": "left", "baseline": "middle", "color": "#000", "dx": 1}, "encoding": {"text": {"field": "t"}}},
  {"data": {"name": "notes"}, "transform": [{"filter": "datum.p=='a'"}], "mark": {"type": "text", "font": "Liberation Serif", "fontSize": 14, "align": "center", "baseline": "middle", "lineBreak": "\n", "lineHeight": 16, "color": "#111"}, "encoding": {"text": {"field": "t"}}}
 ]},
{"width": 310, "height": 233, "title": {"text": "(b) ASD at 60 GHz"},
 "encoding": {"x": {"field": "x", "type": "quantitative", "scale": {"domain": [0, 3], "nice": false, "zero": false}, "axis": {"values": [0, 0.5, 1, 1.5, 2, 2.5, 3], "title": "log₁₀(ASD)"}}, "y": {"field": "y", "type": "quantitative", "scale": {"domain": [0, 1], "nice": false}, "axis": {"values": [0, 0.2, 0.4, 0.6, 0.8, 1], "title": "Cumulative dist. function"}}},
 "layer": [
  {"data": {"name": "curves"}, "transform": [{"filter": "datum.p=='b' && datum.k=='m'"}], "mark": {"type": "line", "strokeWidth": 2}, "encoding": {"color": {"field": "s", "type": "nominal", "scale": {"domain": ["LoS", "NLoS"], "range": ["#ee1c1c", "#1818e8"]}, "legend": {"title": null}}, "order": [{"field": "x", "type": "quantitative"}, {"field": "y", "type": "quantitative"}]}},
  {"data": {"name": "curves"}, "transform": [{"filter": "datum.p=='b' && datum.k=='g'"}], "mark": {"type": "line", "strokeWidth": 2, "strokeDash": [7, 4], "interpolate": "monotone"}, "encoding": {"color": {"field": "s", "type": "nominal", "scale": {"domain": ["LoS", "NLoS"], "range": ["#ee1c1c", "#1818e8"]}, "legend": {"title": null}}, "order": [{"field": "x", "type": "quantitative"}, {"field": "y", "type": "quantitative"}]}},
  {"data": {"name": "arrows"}, "transform": [{"filter": "datum.p=='b'"}], "mark": {"type": "rule", "color": "#222", "strokeWidth": 0.9}, "encoding": {"x2": {"field": "x2"}, "y2": {"field": "y2"}}},
  {"data": {"name": "arrows"}, "transform": [{"filter": "datum.p=='b'"}], "mark": {"type": "point", "shape": "wedge", "filled": true, "color": "#111", "size": 45, "opacity": 1}, "encoding": {"angle": {"field": "dir", "type": "quantitative", "scale": null}}},
  {"data": {"name": "ellipses"}, "transform": [{"filter": "datum.p=='b'"}], "mark": {"type": "point", "shape": "M-1,0A1,0.3 0 1,1 1,0A1,0.3 0 1,1 -1,0Z", "size": 729, "angle": 0, "filled": false, "color": "#000", "strokeWidth": 2, "opacity": 1}},
  {"data": {"name": "labels"}, "transform": [{"filter": "datum.p=='b'"}], "mark": {"type": "text", "text": "N", "font": "Liberation Serif", "fontStyle": "italic", "fontSize": 15, "align": "right", "baseline": "middle", "color": "#000"}},
  {"data": {"name": "labels"}, "transform": [{"filter": "datum.p=='b'"}], "mark": {"type": "text", "font": "Liberation Serif", "fontSize": 15, "align": "left", "baseline": "middle", "color": "#000", "dx": 1}, "encoding": {"text": {"field": "t"}}},
  {"data": {"name": "notes"}, "transform": [{"filter": "datum.p=='b'"}], "mark": {"type": "text", "font": "Liberation Serif", "fontSize": 14, "align": "center", "baseline": "middle", "lineBreak": "\n", "lineHeight": 16, "color": "#111"}, "encoding": {"text": {"field": "t"}}}
 ]},
{"width": 310, "height": 233, "title": {"text": "(c) ASA at 24 GHz"},
 "encoding": {"x": {"field": "x", "type": "quantitative", "scale": {"domain": [0, 3], "nice": false, "zero": false}, "axis": {"values": [0, 0.5, 1, 1.5, 2, 2.5, 3], "title": "log₁₀(ASA)"}}, "y": {"field": "y", "type": "quantitative", "scale": {"domain": [0, 1], "nice": false}, "axis": {"values": [0, 0.2, 0.4, 0.6, 0.8, 1], "title": "Cumulative dist. function"}}},
 "layer": [
  {"data": {"name": "curves"}, "transform": [{"filter": "datum.p=='c' && datum.k=='m'"}], "mark": {"type": "line", "strokeWidth": 2}, "encoding": {"color": {"field": "s", "type": "nominal", "scale": {"domain": ["LoS", "NLoS"], "range": ["#ee1c1c", "#1818e8"]}, "legend": {"title": null}}, "order": [{"field": "x", "type": "quantitative"}, {"field": "y", "type": "quantitative"}]}},
  {"data": {"name": "curves"}, "transform": [{"filter": "datum.p=='c' && datum.k=='g'"}], "mark": {"type": "line", "strokeWidth": 2, "strokeDash": [7, 4], "interpolate": "monotone"}, "encoding": {"color": {"field": "s", "type": "nominal", "scale": {"domain": ["LoS", "NLoS"], "range": ["#ee1c1c", "#1818e8"]}, "legend": {"title": null}}, "order": [{"field": "x", "type": "quantitative"}, {"field": "y", "type": "quantitative"}]}},
  {"data": {"name": "arrows"}, "transform": [{"filter": "datum.p=='c'"}], "mark": {"type": "rule", "color": "#222", "strokeWidth": 0.9}, "encoding": {"x2": {"field": "x2"}, "y2": {"field": "y2"}}},
  {"data": {"name": "arrows"}, "transform": [{"filter": "datum.p=='c'"}], "mark": {"type": "point", "shape": "wedge", "filled": true, "color": "#111", "size": 45, "opacity": 1}, "encoding": {"angle": {"field": "dir", "type": "quantitative", "scale": null}}},
  {"data": {"name": "ellipses"}, "transform": [{"filter": "datum.p=='c'"}], "mark": {"type": "point", "shape": "M-1,0A1,0.38 0 1,1 1,0A1,0.38 0 1,1 -1,0Z", "size": 484, "angle": 0, "filled": false, "color": "#000", "strokeWidth": 2, "opacity": 1}},
  {"data": {"name": "labels"}, "transform": [{"filter": "datum.p=='c'"}], "mark": {"type": "text", "text": "N", "font": "Liberation Serif", "fontStyle": "italic", "fontSize": 15, "align": "right", "baseline": "middle", "color": "#000"}},
  {"data": {"name": "labels"}, "transform": [{"filter": "datum.p=='c'"}], "mark": {"type": "text", "font": "Liberation Serif", "fontSize": 15, "align": "left", "baseline": "middle", "color": "#000", "dx": 1}, "encoding": {"text": {"field": "t"}}},
  {"data": {"name": "notes"}, "transform": [{"filter": "datum.p=='c'"}], "mark": {"type": "text", "font": "Liberation Serif", "fontSize": 14, "align": "center", "baseline": "middle", "lineBreak": "\n", "lineHeight": 16, "color": "#111"}, "encoding": {"text": {"field": "t"}}}
 ]},
{"width": 310, "height": 233, "title": {"text": "(d) DS at 60 GHz"},
 "encoding": {"x": {"field": "x", "type": "quantitative", "scale": {"domain": [-10, -5], "nice": false, "zero": false}, "axis": {"values": [-10, -9, -8, -7, -6, -5], "title": "log₁₀(DS)"}}, "y": {"field": "y", "type": "quantitative", "scale": {"domain": [0, 1], "nice": false}, "axis": {"values": [0, 0.2, 0.4, 0.6, 0.8, 1], "title": "Cumulative dist. function"}}},
 "layer": [
  {"data": {"name": "curves"}, "transform": [{"filter": "datum.p=='d' && datum.k=='m'"}], "mark": {"type": "line", "strokeWidth": 2}, "encoding": {"color": {"field": "s", "type": "nominal", "scale": {"domain": ["LoS", "NLoS"], "range": ["#ee1c1c", "#1818e8"]}, "legend": {"title": null}}, "order": [{"field": "x", "type": "quantitative"}, {"field": "y", "type": "quantitative"}]}},
  {"data": {"name": "curves"}, "transform": [{"filter": "datum.p=='d' && datum.k=='g'"}], "mark": {"type": "line", "strokeWidth": 2, "strokeDash": [7, 4], "interpolate": "monotone"}, "encoding": {"color": {"field": "s", "type": "nominal", "scale": {"domain": ["LoS", "NLoS"], "range": ["#ee1c1c", "#1818e8"]}, "legend": {"title": null}}, "order": [{"field": "x", "type": "quantitative"}, {"field": "y", "type": "quantitative"}]}},
  {"data": {"name": "arrows"}, "transform": [{"filter": "datum.p=='d'"}], "mark": {"type": "rule", "color": "#222", "strokeWidth": 0.9}, "encoding": {"x2": {"field": "x2"}, "y2": {"field": "y2"}}},
  {"data": {"name": "arrows"}, "transform": [{"filter": "datum.p=='d'"}], "mark": {"type": "point", "shape": "wedge", "filled": true, "color": "#111", "size": 45, "opacity": 1}, "encoding": {"angle": {"field": "dir", "type": "quantitative", "scale": null}}},
  {"data": {"name": "ellipses"}, "transform": [{"filter": "datum.p=='d'"}], "mark": {"type": "point", "shape": "M-1,0A1,0.37 0 1,1 1,0A1,0.37 0 1,1 -1,0Z", "size": 900, "angle": 15, "filled": false, "color": "#000", "strokeWidth": 2, "opacity": 1}},
  {"data": {"name": "labels"}, "transform": [{"filter": "datum.p=='d'"}], "mark": {"type": "text", "text": "N", "font": "Liberation Serif", "fontStyle": "italic", "fontSize": 15, "align": "right", "baseline": "middle", "color": "#000"}},
  {"data": {"name": "labels"}, "transform": [{"filter": "datum.p=='d'"}], "mark": {"type": "text", "font": "Liberation Serif", "fontSize": 15, "align": "left", "baseline": "middle", "color": "#000", "dx": 1}, "encoding": {"text": {"field": "t"}}},
  {"data": {"name": "notes"}, "transform": [{"filter": "datum.p=='d'"}], "mark": {"type": "text", "font": "Liberation Serif", "fontSize": 14, "align": "center", "baseline": "middle", "lineBreak": "\n", "lineHeight": 16, "color": "#111"}, "encoding": {"text": {"field": "t"}}}
 ]},
{"width": 310, "height": 233, "title": {"text": "(e) ASD at 60 GHz"},
 "encoding": {"x": {"field": "x", "type": "quantitative", "scale": {"domain": [0, 3], "nice": false, "zero": false}, "axis": {"values": [0, 0.5, 1, 1.5, 2, 2.5, 3], "title": "log₁₀(ASD)"}}, "y": {"field": "y", "type": "quantitative", "scale": {"domain": [0, 1], "nice": false}, "axis": {"values": [0, 0.2, 0.4, 0.6, 0.8, 1], "title": "Cumulative dist. function"}}},
 "layer": [
  {"data": {"name": "curves"}, "transform": [{"filter": "datum.p=='e' && datum.k=='m'"}], "mark": {"type": "line", "strokeWidth": 2}, "encoding": {"color": {"field": "s", "type": "nominal", "scale": {"domain": ["LoS", "NLoS"], "range": ["#ee1c1c", "#1818e8"]}, "legend": {"title": null}}, "order": [{"field": "x", "type": "quantitative"}, {"field": "y", "type": "quantitative"}]}},
  {"data": {"name": "curves"}, "transform": [{"filter": "datum.p=='e' && datum.k=='g'"}], "mark": {"type": "line", "strokeWidth": 2, "strokeDash": [7, 4], "interpolate": "monotone"}, "encoding": {"color": {"field": "s", "type": "nominal", "scale": {"domain": ["LoS", "NLoS"], "range": ["#ee1c1c", "#1818e8"]}, "legend": {"title": null}}, "order": [{"field": "x", "type": "quantitative"}, {"field": "y", "type": "quantitative"}]}},
  {"data": {"name": "arrows"}, "transform": [{"filter": "datum.p=='e'"}], "mark": {"type": "rule", "color": "#222", "strokeWidth": 0.9}, "encoding": {"x2": {"field": "x2"}, "y2": {"field": "y2"}}},
  {"data": {"name": "arrows"}, "transform": [{"filter": "datum.p=='e'"}], "mark": {"type": "point", "shape": "wedge", "filled": true, "color": "#111", "size": 45, "opacity": 1}, "encoding": {"angle": {"field": "dir", "type": "quantitative", "scale": null}}},
  {"data": {"name": "ellipses"}, "transform": [{"filter": "datum.p=='e'"}], "mark": {"type": "point", "shape": "M-1,0A1,0.43 0 1,1 1,0A1,0.43 0 1,1 -1,0Z", "size": 441, "angle": 0, "filled": false, "color": "#000", "strokeWidth": 2, "opacity": 1}},
  {"data": {"name": "labels"}, "transform": [{"filter": "datum.p=='e'"}], "mark": {"type": "text", "text": "N", "font": "Liberation Serif", "fontStyle": "italic", "fontSize": 15, "align": "right", "baseline": "middle", "color": "#000"}},
  {"data": {"name": "labels"}, "transform": [{"filter": "datum.p=='e'"}], "mark": {"type": "text", "font": "Liberation Serif", "fontSize": 15, "align": "left", "baseline": "middle", "color": "#000", "dx": 1}, "encoding": {"text": {"field": "t"}}},
  {"data": {"name": "notes"}, "transform": [{"filter": "datum.p=='e'"}], "mark": {"type": "text", "font": "Liberation Serif", "fontSize": 14, "align": "center", "baseline": "middle", "lineBreak": "\n", "lineHeight": 16, "color": "#111"}, "encoding": {"text": {"field": "t"}}}
 ]},
{"width": 310, "height": 233, "title": {"text": "(f) ASA at 60 GHz"},
 "encoding": {"x": {"field": "x", "type": "quantitative", "scale": {"domain": [0, 3], "nice": false, "zero": false}, "axis": {"values": [0, 0.5, 1, 1.5, 2, 2.5, 3], "title": "log₁₀(ASA)"}}, "y": {"field": "y", "type": "quantitative", "scale": {"domain": [0, 1], "nice": false}, "axis": {"values": [0, 0.2, 0.4, 0.6, 0.8, 1], "title": "Cumulative dist. function"}}},
 "layer": [
  {"data": {"name": "curves"}, "transform": [{"filter": "datum.p=='f' && datum.k=='m'"}], "mark": {"type": "line", "strokeWidth": 2}, "encoding": {"color": {"field": "s", "type": "nominal", "scale": {"domain": ["LoS", "NLoS"], "range": ["#ee1c1c", "#1818e8"]}, "legend": {"title": null}}, "order": [{"field": "x", "type": "quantitative"}, {"field": "y", "type": "quantitative"}]}},
  {"data": {"name": "curves"}, "transform": [{"filter": "datum.p=='f' && datum.k=='g'"}], "mark": {"type": "line", "strokeWidth": 2, "strokeDash": [7, 4], "interpolate": "monotone"}, "encoding": {"color": {"field": "s", "type": "nominal", "scale": {"domain": ["LoS", "NLoS"], "range": ["#ee1c1c", "#1818e8"]}, "legend": {"title": null}}, "order": [{"field": "x", "type": "quantitative"}, {"field": "y", "type": "quantitative"}]}},
  {"data": {"name": "arrows"}, "transform": [{"filter": "datum.p=='f'"}], "mark": {"type": "rule", "color": "#222", "strokeWidth": 0.9}, "encoding": {"x2": {"field": "x2"}, "y2": {"field": "y2"}}},
  {"data": {"name": "arrows"}, "transform": [{"filter": "datum.p=='f'"}], "mark": {"type": "point", "shape": "wedge", "filled": true, "color": "#111", "size": 45, "opacity": 1}, "encoding": {"angle": {"field": "dir", "type": "quantitative", "scale": null}}},
  {"data": {"name": "ellipses"}, "transform": [{"filter": "datum.p=='f'"}], "mark": {"type": "point", "shape": "M-1,0A1,0.3 0 1,1 1,0A1,0.3 0 1,1 -1,0Z", "size": 1296, "angle": 0, "filled": false, "color": "#000", "strokeWidth": 2, "opacity": 1}},
  {"data": {"name": "labels"}, "transform": [{"filter": "datum.p=='f'"}], "mark": {"type": "text", "text": "N", "font": "Liberation Serif", "fontStyle": "italic", "fontSize": 15, "align": "right", "baseline": "middle", "color": "#000"}},
  {"data": {"name": "labels"}, "transform": [{"filter": "datum.p=='f'"}], "mark": {"type": "text", "font": "Liberation Serif", "fontSize": 15, "align": "left", "baseline": "middle", "color": "#000", "dx": 1}, "encoding": {"text": {"field": "t"}}},
  {"data": {"name": "notes"}, "transform": [{"filter": "datum.p=='f'"}], "mark": {"type": "text", "font": "Liberation Serif", "fontSize": 14, "align": "center", "baseline": "middle", "lineBreak": "\n", "lineHeight": 16, "color": "#111"}, "encoding": {"text": {"field": "t"}}}
 ]}
]
}
